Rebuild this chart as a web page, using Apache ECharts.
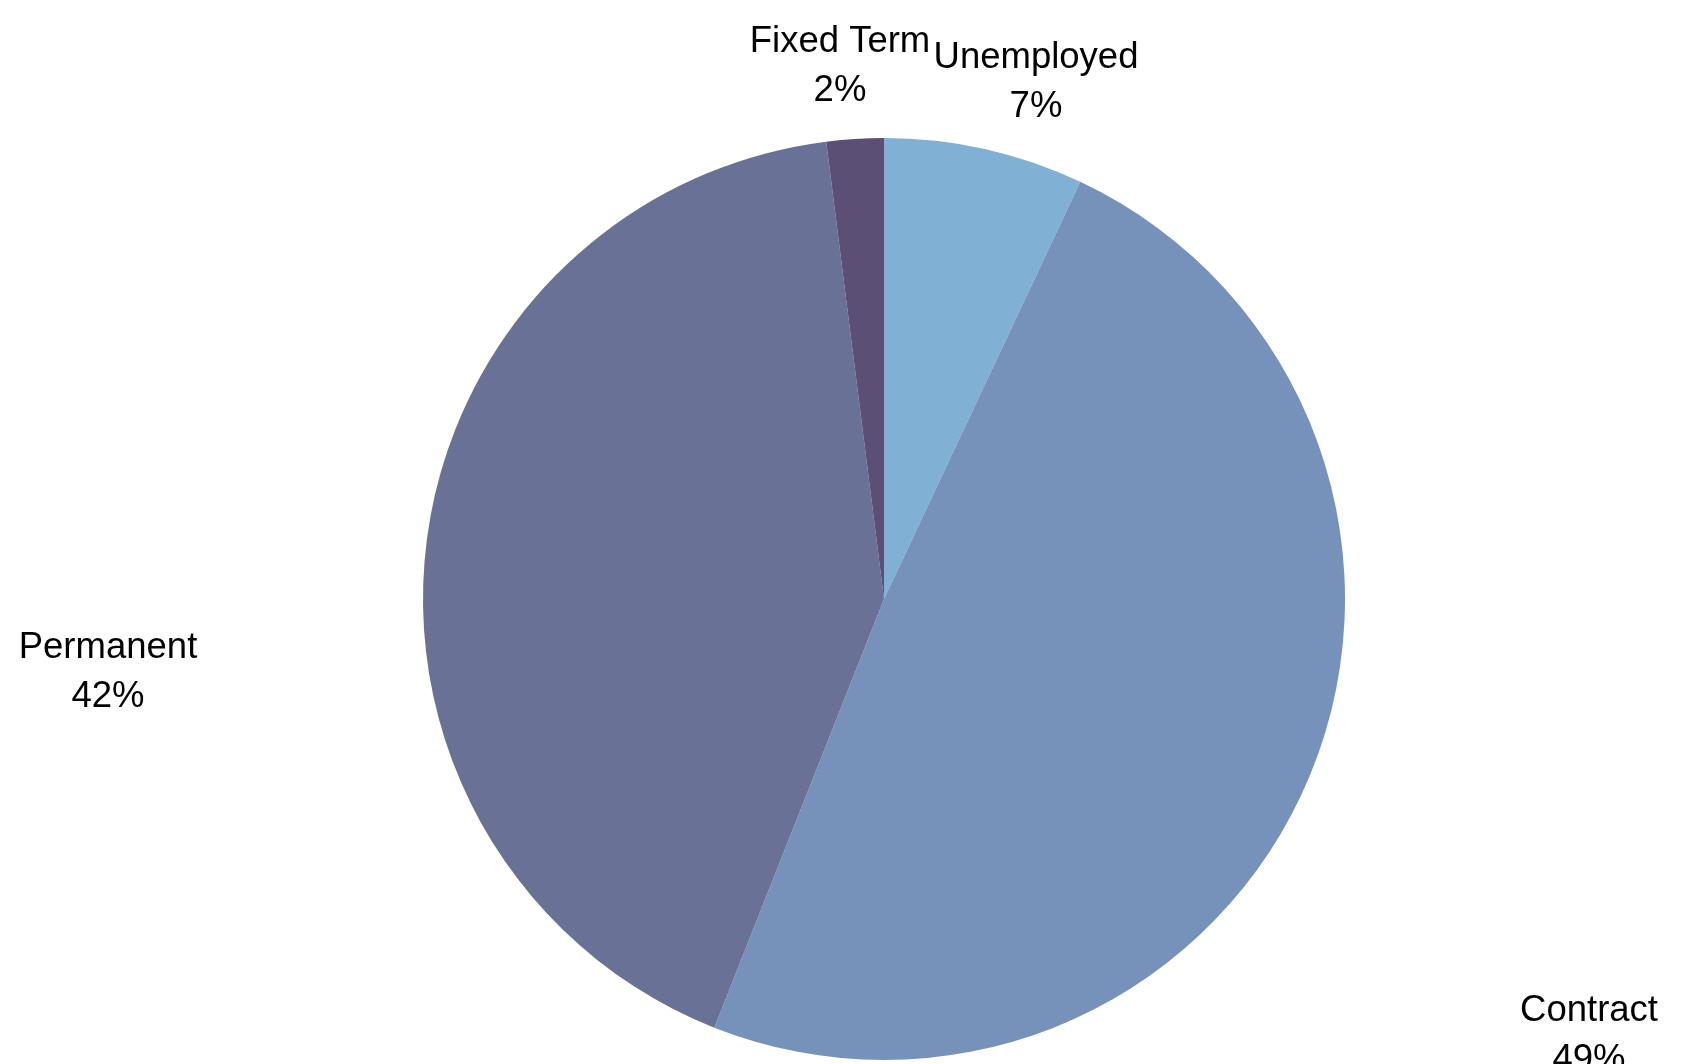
<!DOCTYPE html>
<html>
<head>
<meta charset="utf-8">
<script src="https://cdn.jsdelivr.net/npm/echarts@6/dist/echarts.min.js"></script>
<style>
html,body{margin:0;padding:0;background:#fff;}
#chart{width:1683px;height:1064px;}
</style>
</head>
<body>
<div id="chart"></div>
<script>
const categories = ['Unemployed', 'Contract', 'Permanent', 'Fixed Term'];
const values = [7, 49, 42, 2];
const colors = ['#80b0d4', '#7792ba', '#6a7197', '#5c4f75'];
const labelPos = [[1036, 82], [1589, 1035], [108, 672], [840, 66]];

const chart = echarts.init(document.getElementById('chart'));
chart.setOption({
  animation: false,
  backgroundColor: '#ffffff',
  series: [{
    type: 'pie',
    center: [884, 599],
    radius: 461,
    startAngle: 90,
    clockwise: true,
    data: categories.map((c, i) => ({ name: c, value: values[i], itemStyle: { color: colors[i] } })),
    label: {
      show: true,
      position: 'outside',
      formatter: p => p.name + '\n' + values[p.dataIndex] + '%',
      color: '#000',
      fontFamily: 'Liberation Sans',
      fontSize: 36.5,
      lineHeight: 49,
      align: 'center'
    },
    labelLine: { show: false },
    labelLayout: p => ({
      x: labelPos[p.dataIndex][0],
      y: labelPos[p.dataIndex][1],
      align: 'center',
      verticalAlign: 'middle'
    }),
    emphasis: { disabled: true }
  }]
});
</script>
</body>
</html>
